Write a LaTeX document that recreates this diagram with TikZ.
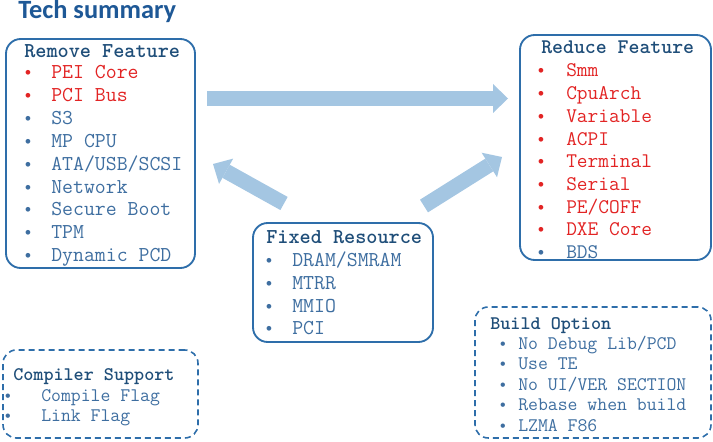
\documentclass[tikz,border=0pt]{standalone}
\usepackage{fontspec}
\newfontfamily\titlefont{Carlito}
\newfontfamily\bulfont{Liberation Mono}
\usetikzlibrary{arrows.meta,fit}
\definecolor{boxc}{RGB}{46,110,170}
\definecolor{headc}{RGB}{31,78,121}
\definecolor{itemc}{RGB}{62,110,160}
\definecolor{redc}{RGB}{226,36,36}
\definecolor{arrc}{RGB}{164,198,226}
\definecolor{titlec}{RGB}{30,88,150}
\begin{document}
\begin{tikzpicture}[x=0.75pt,y=-0.75pt,
  box/.style={draw=boxc, line width=1.4pt, rounded corners=11pt, inner sep=0pt},
  dbox/.style={draw=boxc, line width=1.2pt, rounded corners=10pt, inner sep=0pt, dash pattern=on 4.5pt off 3pt},
  hdA/.style={anchor=base west, inner sep=0pt, text=headc, font=\ttfamily\bfseries\fontsize{15.9pt}{18pt}\selectfont},
  itA/.style={anchor=base west, inner sep=0pt, font=\ttfamily\fontsize{15.9pt}{18pt}\selectfont},
  buA/.style={anchor=base, inner sep=0pt, font=\bulfont\fontsize{13pt}{16pt}\selectfont},
  hdR/.style={hdA, font=\ttfamily\bfseries\fontsize{15.6pt}{18pt}\selectfont},
  itR/.style={itA, font=\ttfamily\fontsize{15.6pt}{18pt}\selectfont},
  hdS/.style={hdA, font=\ttfamily\bfseries\fontsize{14.4pt}{17pt}\selectfont},
  itS/.style={itA, font=\ttfamily\fontsize{14.4pt}{17pt}\selectfont},
  buS/.style={buA, font=\bulfont\fontsize{12pt}{15pt}\selectfont},
  bigarrow/.style={draw=arrc, line width=11.25pt,
    -{Triangle[length=11.25pt, width=21.75pt, line width=0pt]}}
]
\useasboundingbox (0,0) rectangle (713,442);

% title
\node[anchor=base west, inner sep=0pt, text=titlec, font=\titlefont\bfseries\fontsize{19.8pt}{22pt}\selectfont] (title) at (18,18.5) {Tech summary};

% boxes
\node[box, fit={(6,39)(195,268)}] (remove) {};
\node[box, fit={(520,35)(711,260)}] (reduce) {};
\node[box, fit={(253,223)(433,342)}] (fixed) {};
\node[dbox, fit={(3,350)(198,438)}] (compiler) {};
\node[dbox, fit={(475,307)(711,438)}] (build) {};

% Remove Feature
\node[hdA] (remh) at (24,58) {Remove Feature};
\node[buA, text=redc] (rb1) at (28,79) {•};
\node[itA, text=redc] (ri1) at (51,79) {PEI Core};
\node[buA, text=redc] (rb2) at (28,101.8) {•};
\node[itA, text=redc] (ri2) at (51,101.8) {PCI Bus};
\node[buA, text=itemc] (rb3) at (28,124.6) {•};
\node[itA, text=itemc] (ri3) at (51,124.6) {S3};
\node[buA, text=itemc] (rb4) at (28,147.4) {•};
\node[itA, text=itemc] (ri4) at (51,147.4) {MP CPU};
\node[buA, text=itemc] (rb5) at (28,170.2) {•};
\node[itA, text=itemc] (ri5) at (51,170.2) {ATA/USB/SCSI};
\node[buA, text=itemc] (rb6) at (28,193) {•};
\node[itA, text=itemc] (ri6) at (51,193) {Network};
\node[buA, text=itemc] (rb7) at (28,215.8) {•};
\node[itA, text=itemc] (ri7) at (51,215.8) {Secure Boot};
\node[buA, text=itemc] (rb8) at (28,238.6) {•};
\node[itA, text=itemc] (ri8) at (51,238.6) {TPM};
\node[buA, text=itemc] (rb9) at (28,261.4) {•};
\node[itA, text=itemc] (ri9) at (51,261.4) {Dynamic PCD};

% Reduce Feature
\node[hdR] (redh) at (541,54) {Reduce Feature};
\node[buA, text=redc] (db1) at (541,77) {•};
\node[itR, text=redc] (di1) at (566,77) {Smm};
\node[buA, text=redc] (db2) at (541,99.7) {•};
\node[itR, text=redc] (di2) at (566,99.7) {CpuArch};
\node[buA, text=redc] (db3) at (541,122.4) {•};
\node[itR, text=redc] (di3) at (566,122.4) {Variable};
\node[buA, text=redc] (db4) at (541,145.1) {•};
\node[itR, text=redc] (di4) at (566,145.1) {ACPI};
\node[buA, text=redc] (db5) at (541,167.8) {•};
\node[itR, text=redc] (di5) at (566,167.8) {Terminal};
\node[buA, text=redc] (db6) at (541,190.5) {•};
\node[itR, text=redc] (di6) at (566,190.5) {Serial};
\node[buA, text=redc] (db7) at (541,213.2) {•};
\node[itR, text=redc] (di7) at (566,213.2) {PE/COFF};
\node[buA, text=redc] (db8) at (541,235.9) {•};
\node[itR, text=redc] (di8) at (566,235.9) {DXE Core};
\node[buA, text=itemc] (db9) at (541,258.6) {•};
\node[itR, text=itemc] (di9) at (566,258.6) {BDS};

% Fixed Resource
\node[hdA] (fixh) at (266,243) {Fixed Resource};
\node[buA, text=itemc] (fb1) at (269,266) {•};
\node[itA, text=itemc] (fi1) at (292,266) {DRAM/SMRAM};
\node[buA, text=itemc] (fb2) at (269,289) {•};
\node[itA, text=itemc] (fi2) at (292,289) {MTRR};
\node[buA, text=itemc] (fb3) at (269,312) {•};
\node[itA, text=itemc] (fi3) at (292,312) {MMIO};
\node[buA, text=itemc] (fb4) at (269,334) {•};
\node[itA, text=itemc] (fi4) at (292,334) {PCI};

% Compiler Support
\node[hdS] (comh) at (13,380) {Compiler Support};
\node[buS, text=itemc] (cb1) at (8,401) {•};
\node[itS, text=itemc] (ci1) at (41,401) {Compile Flag};
\node[buS, text=itemc] (cb2) at (8,421) {•};
\node[itS, text=itemc] (ci2) at (41,421) {Link Flag};

% Build Option
\node[hdS] (buih) at (490,329) {Build Option};
\node[buS, text=itemc] (bb1) at (503,349) {•};
\node[itS, text=itemc] (bi1) at (518,349) {No Debug Lib/PCD};
\node[buS, text=itemc] (bb2) at (503,369.5) {•};
\node[itS, text=itemc] (bi2) at (518,369.5) {Use TE};
\node[buS, text=itemc] (bb3) at (503,390) {•};
\node[itS, text=itemc] (bi3) at (518,390) {No UI/VER SECTION};
\node[buS, text=itemc] (bb4) at (503,410.5) {•};
\node[itS, text=itemc] (bi4) at (518,410.5) {Rebase when build};
\node[buS, text=itemc] (bb5) at (503,431) {•};
\node[itS, text=itemc] (bi5) at (518,431) {LZMA F86};

% arrows
\coordinate (a1s) at (207,98.5);
\coordinate (a1e) at (508,98.5);
\coordinate (a2s) at (284,203.5);
\coordinate (a2e) at (213,164);
\coordinate (a3s) at (424,206);
\coordinate (a3e) at (502,157);
\draw[bigarrow] (a1s) -- (a1e);
\draw[bigarrow] (a2s) -- (a2e);
\draw[bigarrow] (a3s) -- (a3e);
\end{tikzpicture}
\end{document}
